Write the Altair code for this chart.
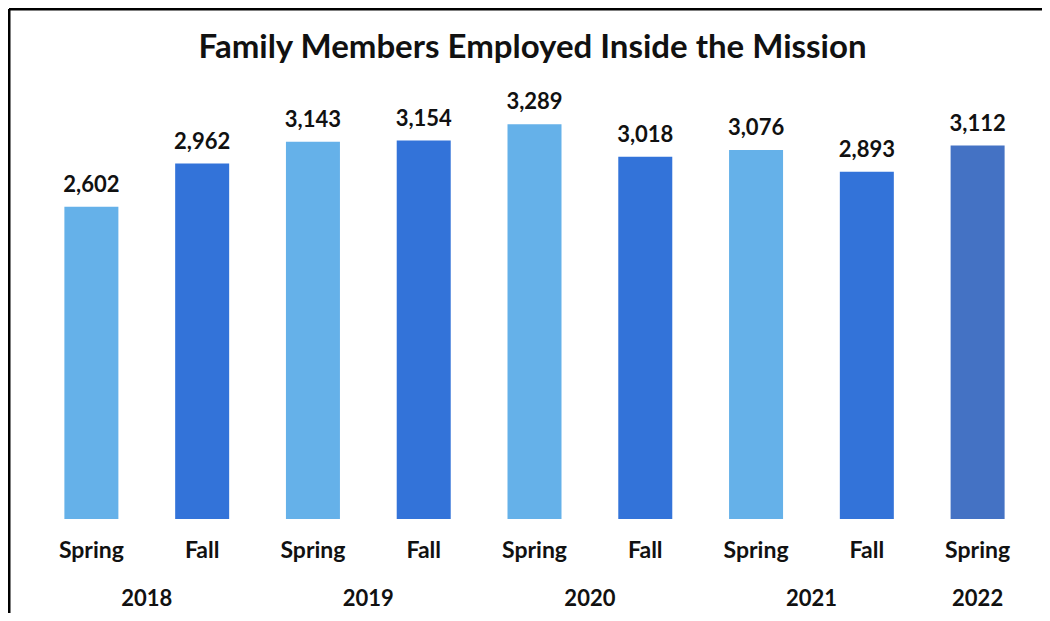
import altair as alt
import pandas as pd

seasons = ["Spring", "Fall", "Spring", "Fall", "Spring", "Fall", "Spring", "Fall", "Spring"]
years = ["2018", "2018", "2019", "2019", "2020", "2020", "2021", "2021", "2022"]
values = [2602, 2962, 3143, 3154, 3289, 3018, 3076, 2893, 3112]
title_text = ["Family Members Employed Inside the Mission"]

df = pd.DataFrame({"idx": list(range(len(values))), "season": seasons, "year": years, "value": values})
df["group"] = [s if i < len(values) - 1 else "Latest" for i, s in enumerate(seasons)]

FONT = "Lato"
W, H = 997, 432

xs = alt.Scale(domain=[-0.5, len(values) - 0.5], nice=False, zero=False, padding=0)
x = alt.X("idx:Q", scale=xs, axis=None)
y = alt.Y("value:Q", scale=alt.Scale(domain=[0, 3600], nice=False), axis=None)

base = alt.Chart(df)

bars = base.mark_bar(size=54).encode(
    x=x, y=y,
    color=alt.Color("group:N",
                    scale=alt.Scale(domain=["Spring", "Fall", "Latest"],
                                    range=["#65B1E9", "#3373D9", "#4472C4"]),
                    legend=None),
)

vals = base.mark_text(font=FONT, fontWeight="bold", fontSize=22, baseline="alphabetic",
                      dy=-15, color="#111111").encode(
    x=x, y=y, text=alt.Text("value:Q", format=",")
)

season_lbl = base.mark_text(font=FONT, fontWeight="bold", fontSize=23, baseline="middle",
                            color="#111111").encode(
    x=x, y=alt.value(H + 32), text="season:N"
)

year_lbl = base.transform_aggregate(pos="mean(idx)", groupby=["year"]).mark_text(
    font=FONT, fontWeight="bold", fontSize=22, baseline="middle", color="#111111"
).encode(
    x=alt.X("pos:Q", scale=xs, axis=None), y=alt.value(H + 80), text="year:N"
)

one = alt.Chart(pd.DataFrame({"k": [0], "title": title_text}))
title = one.mark_text(font=FONT, fontWeight="bold", fontSize=33, baseline="middle",
                      color="#111111").encode(
    x=alt.value(W / 2 - 2), y=alt.value(-39), text="title:N"
)
border_left = one.mark_rule(color="black", strokeWidth=3).encode(
    x=alt.value(-27), y=alt.value(-78), y2=alt.value(H + 200)
)
border_top = one.mark_rule(color="black", strokeWidth=3).encode(
    y=alt.value(-78), x=alt.value(-27), x2=alt.value(W + 100)
)

chart = alt.layer(bars, vals, season_lbl, year_lbl, title, border_left, border_top).properties(
    width=W, height=H,
    autosize=alt.AutoSizeParams(type="none"),
    padding={"left": 28, "top": 79, "right": 9, "bottom": 94},
).configure_view(strokeWidth=0)

chart.save("out.html", embed_options={"renderer": "svg", "actions": False})
